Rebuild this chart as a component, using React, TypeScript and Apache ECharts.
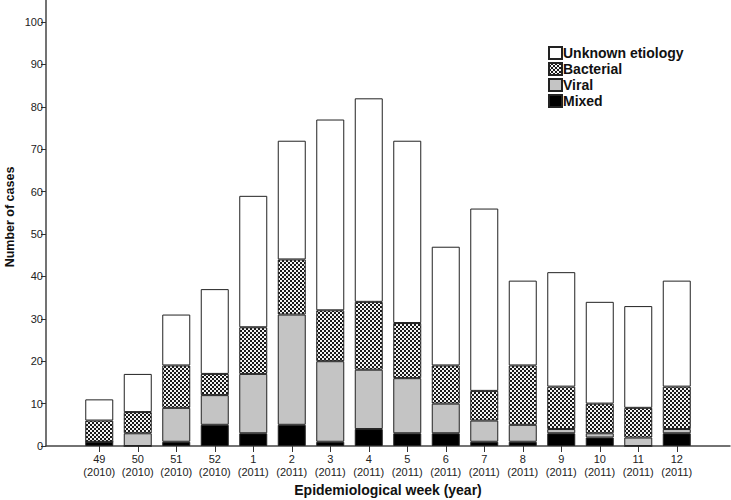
import React, { useEffect, useRef } from "react";
import * as echarts from "echarts";

const weeks = ["49\n(2010)", "50\n(2010)", "51\n(2010)", "52\n(2010)", "1\n(2011)", "2\n(2011)", "3\n(2011)", "4\n(2011)", "5\n(2011)", "6\n(2011)", "7\n(2011)", "8\n(2011)", "9\n(2011)", "10\n(2011)", "11\n(2011)", "12\n(2011)"];
const mixed = [1, 0, 1, 5, 3, 5, 1, 4, 3, 3, 1, 1, 3, 2, 0, 3];
const viral = [0, 3, 8, 7, 14, 26, 19, 14, 13, 7, 5, 4, 1, 1, 2, 1];
const bacterial = [5, 5, 10, 5, 11, 13, 12, 16, 13, 9, 7, 14, 10, 7, 7, 10];
const unknown = [5, 9, 12, 20, 31, 28, 45, 48, 43, 28, 43, 20, 27, 24, 24, 25];

const FONT = "'Liberation Sans', Arial, sans-serif";

function makePattern(): HTMLCanvasElement {
  const c = document.createElement("canvas");
  c.width = 4;
  c.height = 4;
  const ctx = c.getContext("2d")!;
  ctx.fillStyle = "#1a1a1a";
  ctx.fillRect(0, 0, 4, 4);
  ctx.fillStyle = "#f4f4f4";
  ctx.fillRect(0, 0, 2, 2);
  ctx.fillRect(2, 2, 2, 2);
  return c;
}

export default function App() {
  const ref = useRef<HTMLDivElement>(null);
  useEffect(() => {
    const chart = echarts.init(ref.current!, undefined, { renderer: "svg" });
    const pattern = makePattern();
    const border = { borderColor: "#222", borderWidth: 1 };
    const mk = (name: string, data: number[], color: any) => ({
      name,
      type: "bar",
      stack: "total",
      data,
      barWidth: 28,
      xAxisIndex: 0,
      yAxisIndex: 0,
      itemStyle: { color, ...border },
      emphasis: { disabled: true },
    });
    const axisLineStyle = { color: "#444", width: 1.5 };
    chart.setOption({
      animation: false,
      backgroundColor: "#fff",
      textStyle: { fontFamily: FONT },
      grid: [
        { left: 80, right: 35, top: 22, bottom: 54, outerBoundsMode: "none", containLabel: false },
        { left: 46, right: 1, top: 0, bottom: 54, outerBoundsMode: "none", containLabel: false },
      ],
      legend: {
        orient: "vertical",
        left: 548,
        top: 46,
        padding: 0,
        itemWidth: 13,
        itemHeight: 12,
        itemGap: 2,
        icon: "rect",
        data: ["Unknown etiology", "Bacterial", "Viral", "Mixed"],
        textStyle: { fontFamily: FONT, fontSize: 14, lineHeight: 14, fontWeight: "bold", color: "#111", padding: [0, 0, 0, -4] },
      },
      xAxis: [
        {
          type: "category",
          gridIndex: 0,
          data: weeks,
          name: "Epidemiological week (year)",
          nameLocation: "middle",
          nameGap: 37,
          nameTextStyle: { fontFamily: FONT, fontSize: 14, fontWeight: "bold", color: "#111" },
          axisLine: { show: false },
          axisTick: { show: true, alignWithLabel: true, length: 6, lineStyle: { color: "#333" } },
          axisLabel: { fontFamily: FONT, fontSize: 11, lineHeight: 12.5, color: "#222", margin: 7, interval: 0 },
        },
        {
          type: "value",
          gridIndex: 1,
          min: 0,
          max: 1,
          axisLine: { show: true, lineStyle: axisLineStyle },
          axisTick: { show: false },
          axisLabel: { show: false },
          splitLine: { show: false },
        },
      ],
      yAxis: [
        {
          type: "value",
          gridIndex: 0,
          min: 0,
          max: 100,
          interval: 10,
          offset: 34,
          axisLine: { show: false },
          axisTick: { show: true, length: 5, lineStyle: { color: "#333" } },
          axisLabel: { fontFamily: FONT, fontSize: 11, color: "#222", margin: 3 },
          splitLine: { show: false },
        },
        {
          type: "value",
          gridIndex: 1,
          min: 0,
          max: 1,
          name: "Number of cases",
          nameLocation: "middle",
          nameGap: 30,
          nameTextStyle: { fontFamily: FONT, fontSize: 12.5, fontWeight: "bold", color: "#111", padding: [0, 0, 0, 12] },
          axisLine: { show: true, lineStyle: axisLineStyle },
          axisTick: { show: false },
          axisLabel: { show: false },
          splitLine: { show: false },
        },
      ],
      series: [
        mk("Mixed", mixed, "#000"),
        mk("Viral", viral, "#c4c4c4"),
        mk("Bacterial", bacterial, { image: pattern, repeat: "repeat" }),
        mk("Unknown etiology", unknown, "#fff"),
      ],
    });
    return () => chart.dispose();
  }, []);
  return <div ref={ref} style={{ width: 731, height: 500, position: "fixed", left: 0, top: 0 }} />;
}
